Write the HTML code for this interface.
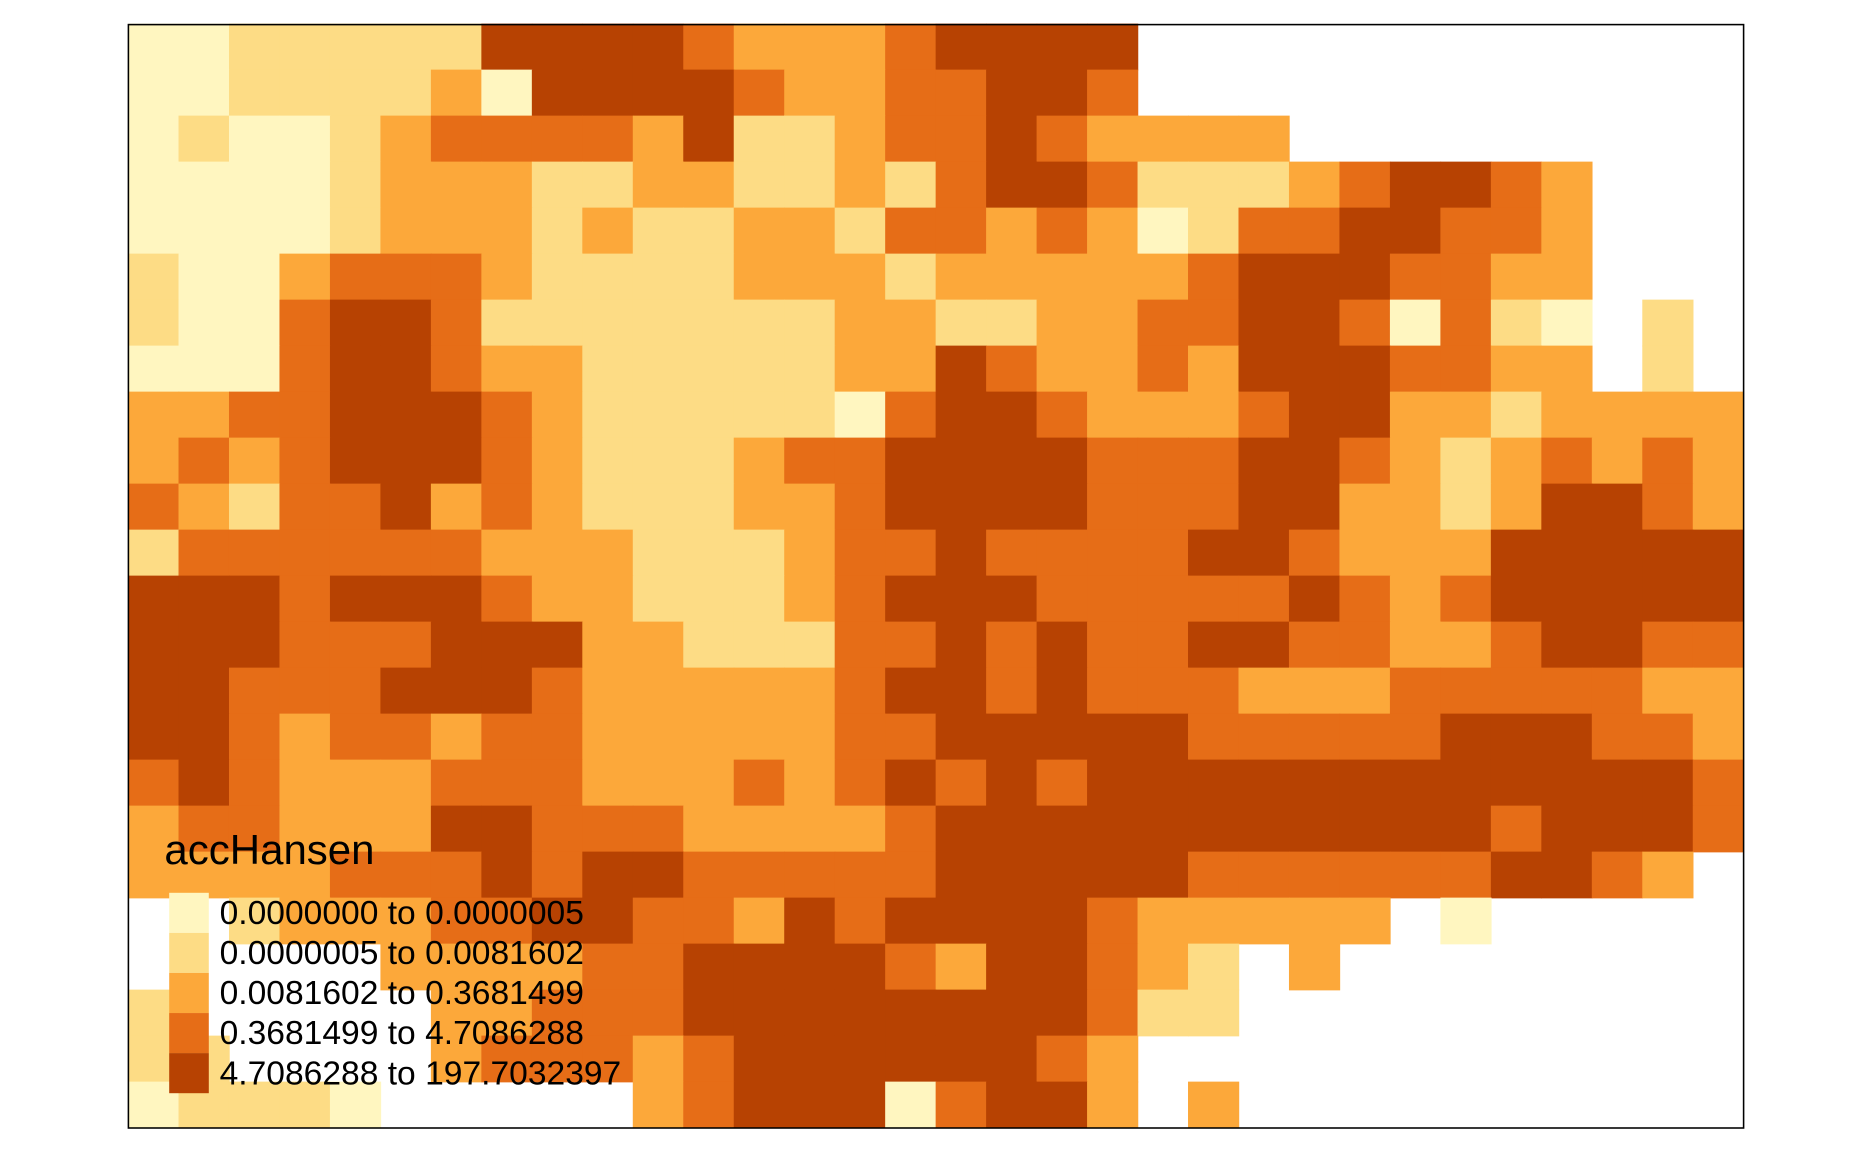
<!DOCTYPE html>
<html><head><meta charset="utf-8"><style>
html,body{margin:0;padding:0;background:#fff;}
svg{display:block;}
text{font-family:"Liberation Sans",Arial,sans-serif;}
</style></head><body>
<svg id="map" width="1872" height="1152" viewBox="0 0 1560 960" xmlns="http://www.w3.org/2000/svg">
<rect x="0" y="0" width="1560" height="960" fill="#fff"/>
<g id="cells"></g>
<rect x="107" y="20.5" width="1346" height="919.5" fill="none" stroke="#000" stroke-width="1.3"/>
<g id="legend">
<text x="137" y="720" font-size="35">accHansen</text>
</g>
</svg>
<script>
const classColors = ["#FFF6C0","#FDDC85","#FCA83A","#E66D17","#B74202"];
const classLabels = ["0.0000000 to 0.0000005","0.0000005 to 0.0081602","0.0081602 to 0.3681499","0.3681499 to 4.7086288","4.7086288 to 197.7032397"];
const gridRows = [
"00111114444322234444............",
"00111120444432233443............",
"01001233332411233432222.........",
"00001222112211213443111234432...",
"00001222121122133232013344332...",
"10023332111122212222234443322...",
"10034431111111221122334430310.1.",
"00034432211111224322324443322.1.",
"22334443211111034432223442212222",
"23234443211123344443334432123232",
"32133423211122344443334422124432",
"13333332221112334333344322244444",
"44434443221112344433333432344444",
"44433344422111334343344332234433",
"44333444322222344343332223333322",
"44323323322222334444433333444332",
"34322233322232343434444444444443",
"23322244333222234444444444434443",
"2222333434433333444443333334432.",
"..12223344332434444322222.0.....",
".....22223344443244321.2........",
"1.....2233344444444311..........",
"11....23332344444432............",
"01110.....2344403442.2.........."
];
const x0=107, x1=1453, y0=20, y1=940;
const nCols = 32, nRows = gridRows.length;
function xScale(c){ return x0 + (x1-x0)*c/nCols; }
function yScale(r){ return y0 + (y1-y0)*r/nRows; }
const NS="http://www.w3.org/2000/svg";
const g=document.getElementById('cells');
gridRows.forEach((row,r)=>{
  for(let c=0;c<nCols;c++){
    const ch=row[c];
    if(ch===undefined||ch==='.'||ch===' ') continue;
    const k=+ch;
    const xa=xScale(c), xb=xScale(c+1), ya=yScale(r), yb=yScale(r+1);
    const p=document.createElementNS(NS,'polygon');
    p.setAttribute('points',[[xa-0.3,ya-0.3],[xb+0.3,ya-0.3],[xb+0.3,yb+0.3],[xa-0.3,yb+0.3]].map(a=>a.join(',')).join(' '));
    p.setAttribute('fill',classColors[k]);
    
    
    g.appendChild(p);
  }
});
const lg=document.getElementById('legend');
classLabels.forEach((lab,i)=>{
  const y=744+i*33.4;
  const rc=document.createElementNS(NS,'rect');
  rc.setAttribute('x',141);rc.setAttribute('y',y);rc.setAttribute('width',33);rc.setAttribute('height',33.4);
  rc.setAttribute('fill',classColors[i]);
  
  
  lg.appendChild(rc);
  const t=document.createElementNS(NS,'text');
  t.setAttribute('x',183);t.setAttribute('y',y+26);t.setAttribute('font-size',28);
  t.textContent=lab;
  
  
  lg.appendChild(t);
});
</script>
</body></html>
